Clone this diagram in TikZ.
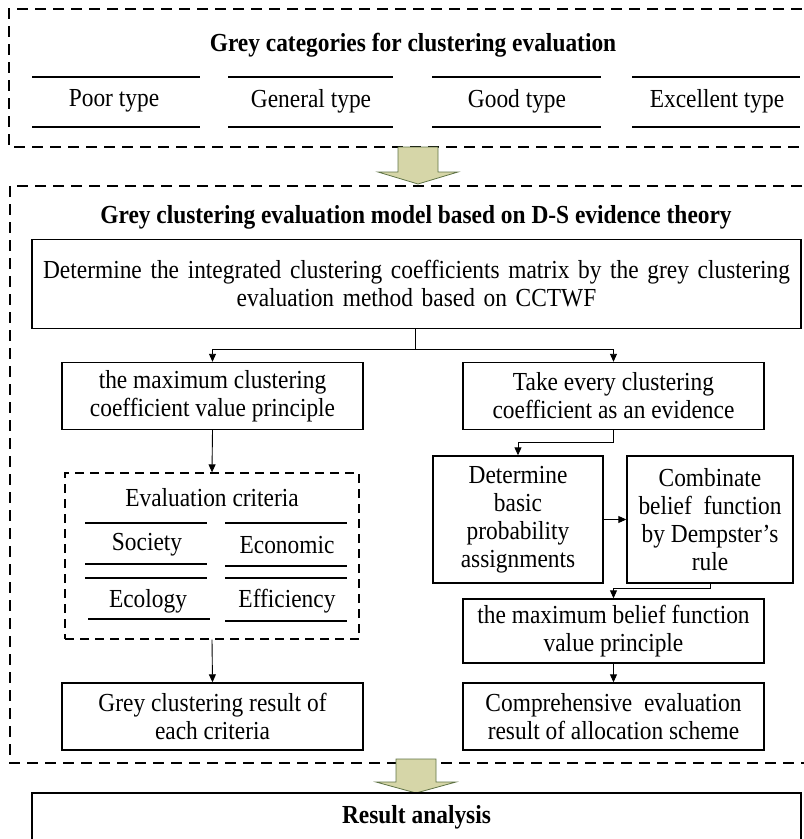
\documentclass[tikz,border=0pt]{standalone}
\usepackage{fontspec}
\setmainfont{Liberation Serif}[FakeStretch=0.9]
\usetikzlibrary{arrows.meta}
\definecolor{arrowfill}{RGB}{214,214,168}
\definecolor{arrowdraw}{RGB}{95,115,70}
\begin{document}
\begin{tikzpicture}[x=1pt,y=-1pt,
  txt/.style={font=\fontsize{26}{28}\selectfont},
  bx/.style={draw,line width=1.4pt,align=flush center,inner sep=0pt,txt},
  ttl/.style={font=\fontsize{26}{28}\selectfont\bfseries,inner sep=0pt},
  lbl/.style={txt,inner sep=0pt},
  dbox/.style={draw,line width=1.4pt,dash pattern=on 11pt off 7pt},
  ebox/.style={draw,line width=1.3pt,dash pattern=on 9pt off 6pt,inner sep=0pt},
  con/.style={line width=0.9pt,-{Triangle[length=8pt,width=7pt]}},
  plain/.style={line width=0.9pt},
  rulel/.style={line width=1.5pt},
  bigarrow/.style={draw=arrowdraw,fill=arrowfill,line width=0.8pt}
]
\useasboundingbox (0,0) rectangle (804,839);

% ---- top dashed region
\draw[dbox] (820,9) -- (9,9) -- (9,147) -- (820,147);
\node[ttl] (t1) at (413,45) {Grey categories for clustering evaluation};
\foreach \xa/\xb in {32/200,228/393,432/601,632/800}{
  \draw[rulel] (\xa,77) -- (\xb,77);
  \draw[rulel] (\xa,127) -- (\xb,127);
}
\node[lbl] (poor) at (114,101) {Poor type};
\node[lbl] (gen) at (311,101) {General type};
\node[lbl] (good) at (517,101) {Good type};
\node[lbl] (exc) at (717,101) {Excellent type};

% ---- block arrow 1
\draw[bigarrow] (398,147) -- (438,147) -- (438,172) -- (458,172) -- (418,184) -- (378,172) -- (398,172) -- cycle;

% ---- middle dashed region
\draw[dbox] (820,186) -- (10,186) -- (10,763) -- (820,763);
\node[ttl] (t2) at (416,217) {Grey clustering evaluation model based on D-S evidence theory};

\node[bx,align=center,text width=769pt,minimum height=89pt] (b1) at (416.5,284)
  {Determine the integrated clustering coefficients matrix by the grey clustering\\evaluation method based on CCTWF};

\node[bx,text width=301pt,minimum height=67pt] (l1) at (212.5,396)
  {the maximum clustering\\coefficient value principle};
\node[bx,text width=301pt,minimum height=67pt] (r1) at (613.5,396)
  {Take every clustering\\coefficient as an evidence};

\coordinate (j1) at (415,349);
\draw[plain] (b1.south -| j1) -- (j1);
\draw[con] (j1) -| (l1.north);
\draw[con] (j1) -| (r1.north);

% evaluation criteria dashed box
\node[ebox,minimum width=294pt,minimum height=166pt] (ev) at (212,556) {};
\node[lbl] (evt) at (212,498) {Evaluation criteria};
\draw[rulel] (85,523) -- (207,523);
\draw[rulel] (225,523) -- (347,523);
\draw[rulel] (85,564) -- (207,564);
\draw[rulel] (225,566) -- (347,566);
\draw[rulel] (85,578) -- (207,578);
\draw[rulel] (225,578) -- (347,578);
\draw[rulel] (88,619) -- (210,619);
\draw[rulel] (225,621) -- (347,621);
\node[lbl] (soc) at (147,545) {Society};
\node[lbl] (eco) at (287,545) {Economic};
\node[lbl] (ecl) at (148,601) {Ecology};
\node[lbl] (eff) at (287,601) {Efficiency};

\draw[con] (l1.south) -- (ev.north);

\node[bx,text width=301pt,minimum height=67pt] (l3) at (212.5,716.5)
  {Grey clustering result of\\each criteria};
\draw[con] (ev.south) -- (l3.north);

% right column
\node[bx,text width=170pt,minimum height=127pt] (det) at (518,519.5)
  {Determine\\basic\\probability\\assignments};
\node[bx,text width=166pt,minimum height=127pt] (comb) at (710,519.5)
  {Combinate\\belief\ \ function\\by Dempster’s\\rule};
\draw[con] (r1.south) -- ++(0,12) -| (det.north);
\draw[con] (det.east) -- (comb.west);

\node[bx,text width=301pt,minimum height=64pt] (maxb) at (613.5,631)
  {the maximum belief function\\value principle};
\draw[con] (comb.south) -- ++(0,5) -| (maxb.north);

\node[bx,text width=301pt,minimum height=67pt] (comp) at (613.5,716.5)
  {Comprehensive\ \ evaluation\\result of allocation scheme};
\draw[con] (maxb.south) -- (comp.north);

% ---- block arrow 2
\draw[bigarrow] (396,759) -- (436,759) -- (436,782) -- (456,782) -- (416,793) -- (376,782) -- (396,782) -- cycle;

% ---- result analysis
\node[draw,line width=1.4pt,minimum width=769pt,minimum height=48pt,inner sep=0pt] (res) at (416.5,817) {};
\node[ttl] (rest) at (416.5,817) {Result analysis};
\end{tikzpicture}
\end{document}
